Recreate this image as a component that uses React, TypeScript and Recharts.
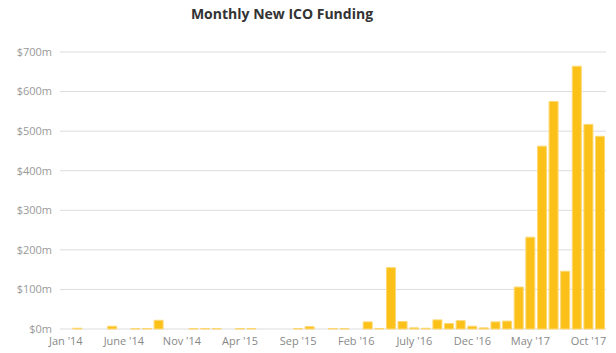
import { BarChart, Bar, XAxis, YAxis, CartesianGrid } from "recharts";

const months = [
  "Jan '14", "Feb '14", "Mar '14", "Apr '14", "May '14", "June '14", "July '14", "Aug '14", "Sep '14", "Oct '14", "Nov '14", "Dec '14",
  "Jan '15", "Feb '15", "Mar '15", "Apr '15", "May '15", "June '15", "July '15", "Aug '15", "Sep '15", "Oct '15", "Nov '15", "Dec '15",
  "Jan '16", "Feb '16", "Mar '16", "Apr '16", "May '16", "June '16", "July '16", "Aug '16", "Sep '16", "Oct '16", "Nov '16", "Dec  '16",
  "Jan '17", "Feb '17", "Mar '17", "Apr '17", "May '17", "June '17", "July '17", "Aug '17", "Sep '17", "Oct '17", "Nov '17",
];

// $ millions per month
const funding = [
  0, 2, 0, 0, 7, 0, 1, 1, 22, 0, 0, 1,
  1, 1, 0, 1, 1, 0, 0, 0, 1, 6, 0, 1,
  1, 0, 18, 1, 155, 19, 3, 2, 23, 14, 21, 7,
  3, 18, 20, 106, 232, 462, 575, 146, 664, 517, 487,
];

const yTicks = [0, 100, 200, 300, 400, 500, 600, 700];

const data = months.map((m, i) => ({ month: m, value: funding[i] }));

export default function App() {
  return (
    <div style={{ position: "absolute", left: 0, top: 0, width: 616, height: 353, background: "#fff" }}>
      <div
        style={{
          position: "absolute", top: 4, left: 0, width: 564, textAlign: "center",
          fontFamily: "'Open Sans', sans-serif", fontWeight: 700, fontSize: 14, color: "#333",
        }}
      >
        Monthly New ICO Funding
      </div>
      <BarChart
        width={616}
        height={353}
        data={data}
        margin={{ top: 52, right: 10, bottom: 4, left: 0 }}
        barCategoryGap="10%"
      >
        <CartesianGrid vertical={false} stroke="#dcdcdc" />
        <XAxis
          dataKey="month"
          interval={4}
          axisLine={false}
          tickLine={false}
          height={20}
          tick={{ fill: "#888", fontSize: 11, fontFamily: "'Open Sans', sans-serif" }}
        />
        <YAxis
          domain={[0, 700]}
          ticks={yTicks}
          width={60}
          axisLine={false}
          tickLine={false}
          tickFormatter={(v: number) => `$${v}m`}
          tick={{ fill: "#999", fontSize: 11, fontFamily: "'Open Sans', sans-serif" }}
        />
        <Bar dataKey="value" fill="#fbc118" stroke="#fdd873" strokeWidth={1} isAnimationActive={false} />
      </BarChart>
    </div>
  );
}
